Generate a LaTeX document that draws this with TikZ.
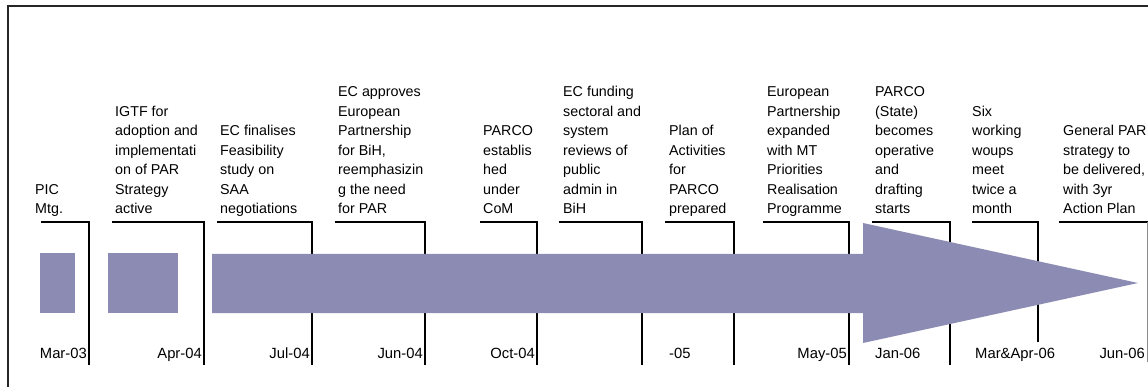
\documentclass[tikz,border=0pt]{standalone}
\usepackage{fontspec}
\setmainfont{Liberation Sans}
\definecolor{barblue}{RGB}{139,139,179}

\begin{document}
\begin{tikzpicture}[x=1pt, y=-1pt,
    event/.style={anchor=south west, inner sep=0pt, align=left,
      font=\fontsize{14.3}{19.5}\selectfont, execute at end node=\strut},
    date/.style={inner sep=0pt, font=\fontsize{14.8}{18}\selectfont},
    tick/.style={line width=2pt},
    bar/.style={fill=barblue, draw=none}]

    \useasboundingbox (0,0) rectangle (1148,387);

    % Frame
    \draw[line width=1.3pt, black!85] (8,387) -- (8,6) -- (1148,6);

    % Brackets of the milestones
    \draw[tick] (41,222) -| (89,365);
    \draw[tick] (112,222) -| (204,365);
    \draw[tick] (217,222) -| (312,365);
    \draw[tick] (335,222) -| (425,365);
    \draw[tick] (480,222) -| (537,365);
    \draw[tick] (559,222) -| (642,365);
    \draw[tick] (665,222) -| (734,365);
    \draw[tick] (763,222) -| (849,365);
    \draw[tick] (872,222) -| (950,365);
    \draw[tick] (972,222) -| (1038,342);
    \draw[tick] (1059,222) -- (1148,222);
    \draw[line width=1pt, black!45] (1147.3,222) -- (1147.3,362);

    % Blocks and the big arrow
    \fill[bar] (40,253) rectangle (75,313);
    \fill[bar] (108,253) rectangle (178,313);
    \fill[bar] (212,254) -- (863,254) -- (863,223) -- (1138,283)
        -- (863,343) -- (863,313) -- (212,313) -- cycle;

    % Milestone texts
    \node[event] (PIC)   at (35,220)   {PIC\\Mtg.};
    \node[event] (IGTF)  at (115,220)  {IGTF for\\adoption and\\implementati\\on of PAR\\Strategy\\active};
    \node[event] (FS)    at (220,220)  {EC finalises\\Feasibility\\study on\\SAA\\negotiations};
    \node[event] (EP)    at (338,220)  {EC approves\\European\\Partnership\\for BiH,\\reemphasizin\\g the need\\for PAR};
    \node[event] (PARCO) at (483,220)  {PARCO\\establis\\hed\\under\\CoM};
    \node[event] (EF)    at (563,220)  {EC funding\\sectoral and\\system\\reviews of\\public\\admin in\\BiH};
    \node[event] (PA)    at (669,220)  {Plan of\\Activities\\for\\PARCO\\prepared};
    \node[event] (EPX)   at (767,220)  {European\\Partnership\\expanded\\with MT\\Priorities\\Realisation\\Programme};
    \node[event] (PS)    at (875,220)  {PARCO\\(State)\\becomes\\operative\\and\\drafting\\starts};
    \node[event] (WG)    at (972,220)  {Six\\working\\woups\\meet\\twice a\\month};
    \node[event] (GP)    at (1063,220) {General PAR\\strategy to\\be delivered,\\with 3yr\\Action Plan};

    % Dates
    \node[date, anchor=base east] (d1)  at (87,358)   {Mar-03};
    \node[date, anchor=base east] (d2)  at (202,358)  {Apr-04};
    \node[date, anchor=base east] (d3)  at (310,358)  {Jul-04};
    \node[date, anchor=base east] (d4)  at (423,358)  {Jun-04};
    \node[date, anchor=base east] (d5)  at (535,358)  {Oct-04};
    \node[date, anchor=base west] (d6)  at (669,358)  {-05};
    \node[date, anchor=base east] (d7)  at (847,358)  {May-05};
    \node[date, anchor=base west] (d8)  at (875,358)  {Jan-06};
    \node[date, anchor=base west] (d9)  at (975,358)  {Mar\&Apr-06};
    \node[date, anchor=base east] (d10) at (1145,358) {Jun-06};

\end{tikzpicture}
\end{document}
